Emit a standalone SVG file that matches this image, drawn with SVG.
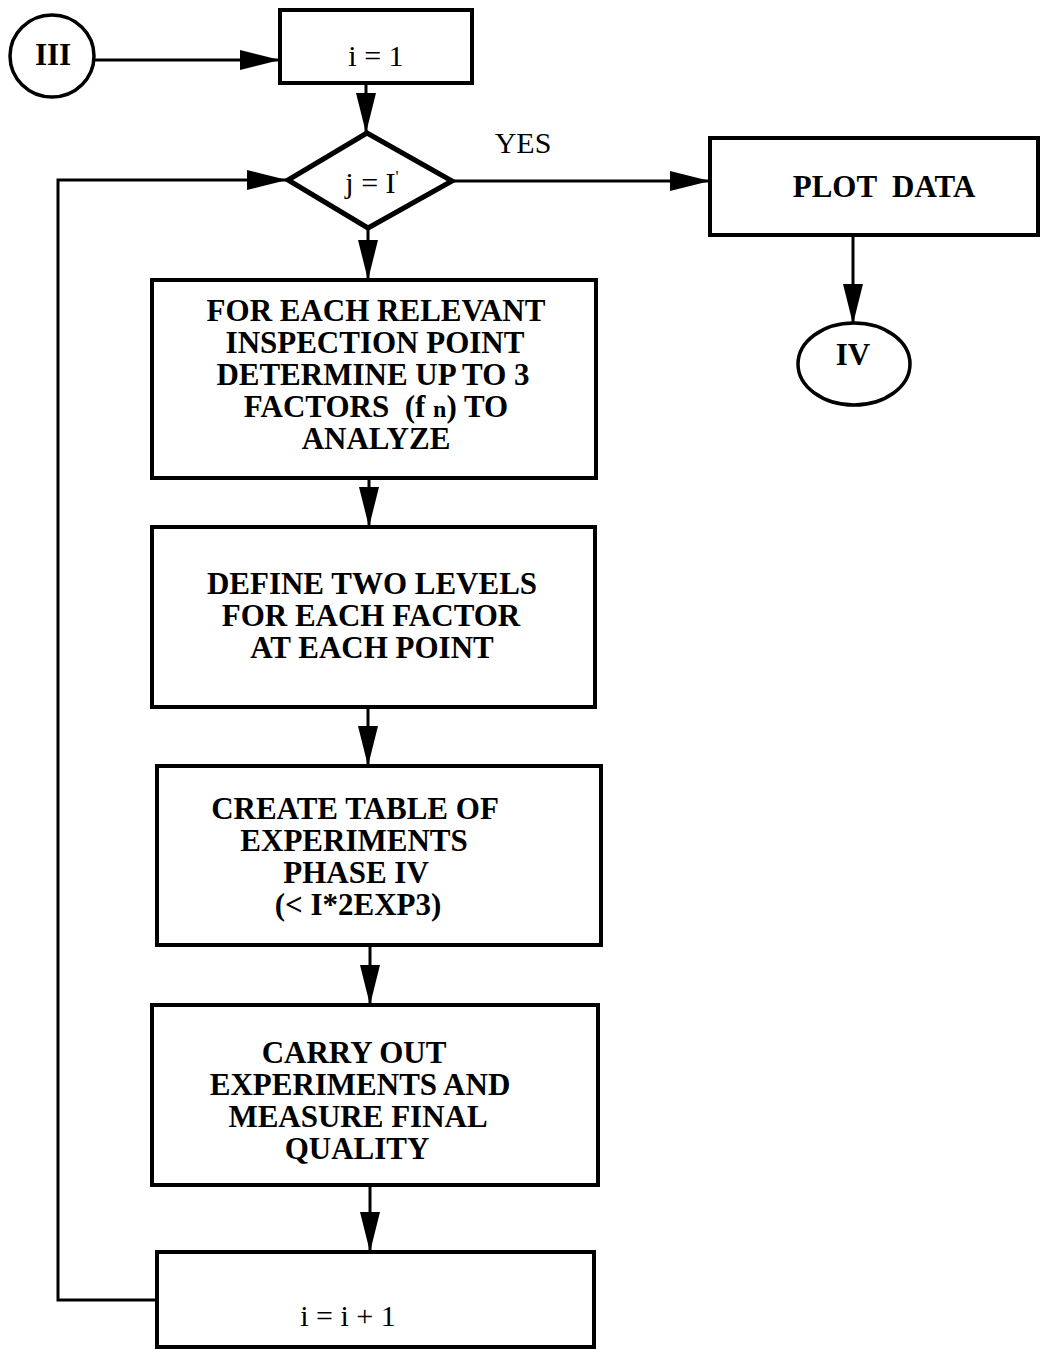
<svg xmlns="http://www.w3.org/2000/svg" width="1041" height="1349" viewBox="0 0 1041 1349">
  <style>
    .box { fill: #fff; stroke: #000; stroke-width: 4; }
    .term { fill: #fff; stroke: #000; stroke-width: 3.5; }
    .dec { fill: #fff; stroke: #000; stroke-width: 5; stroke-linejoin: miter; }
    .wire { fill: none; stroke: #000; stroke-width: 3; }
    .lbl { font-family: "Liberation Serif", "Times New Roman", serif; font-weight: bold; font-size: 31px; text-anchor: middle; fill: #000; }
    .reg { font-family: "Liberation Serif", "Times New Roman", serif; font-weight: normal; font-size: 30px; text-anchor: middle; fill: #000; }
  </style>
  <defs>
    <marker id="head" markerUnits="userSpaceOnUse" markerWidth="42" markerHeight="22" refX="40" refY="11" orient="auto">
      <path d="M0,1 L40,11 L0,21 Z" fill="#000"/>
    </marker>
  </defs>
  <rect width="1041" height="1349" fill="#fff"/>

  <!-- connectors -->
  <g id="connectors" class="wire">
    <line x1="95" y1="60" x2="280" y2="60" marker-end="url(#head)"/>
    <line x1="366" y1="83" x2="366" y2="133" marker-end="url(#head)"/>
    <line x1="453" y1="181" x2="710" y2="181" marker-end="url(#head)"/>
    <line x1="853" y1="235" x2="853" y2="324" marker-end="url(#head)"/>
    <line x1="368" y1="228" x2="368" y2="280" marker-end="url(#head)"/>
    <line x1="369" y1="478" x2="369" y2="527" marker-end="url(#head)"/>
    <line x1="368" y1="707" x2="368" y2="766" marker-end="url(#head)"/>
    <line x1="370" y1="945" x2="370" y2="1005" marker-end="url(#head)"/>
    <line x1="370" y1="1185" x2="370" y2="1252" marker-end="url(#head)"/>
    <polyline points="157,1300 58,1300 58,180 287,180" marker-end="url(#head)"/>
  </g>

  <!-- start connector III -->
  <g id="start">
    <ellipse class="term" cx="52" cy="56" rx="42" ry="41"/>
    <text class="lbl" x="53" y="65" font-size="28">III</text>
  </g>

  <!-- counter init -->
  <g id="init">
    <rect class="box" x="280" y="10" width="192" height="73"/>
    <text class="reg" x="376" y="66" font-size="29">i = 1</text>
  </g>

  <!-- loop test -->
  <g id="test">
    <polygon class="dec" points="367,133 452,181 368,228 288,180"/>
    <text class="reg" x="372" y="193">j = I<tspan font-size="17" dy="-11">'</tspan></text>
  </g>

  <text id="yes" class="reg" x="523" y="153" font-size="23">YES</text>

  <!-- plot -->
  <g id="plot">
    <rect class="box" x="710" y="138" width="328" height="97"/>
    <text class="lbl" x="884" y="197" font-size="29" xml:space="preserve">PLOT  DATA</text>
  </g>

  <!-- end connector IV -->
  <g id="end">
    <ellipse class="term" cx="854" cy="364" rx="56" ry="41"/>
    <text class="lbl" x="853" y="365" font-size="28">IV</text>
  </g>

  <!-- factor selection -->
  <g id="factors">
    <rect class="box" x="152" y="280" width="444" height="198"/>
    <text class="lbl" x="376" y="321">FOR EACH RELEVANT</text>
    <text class="lbl" x="375" y="353">INSPECTION POINT</text>
    <text class="lbl" x="373" y="385">DETERMINE UP TO 3</text>
    <text class="lbl" x="376" y="417" xml:space="preserve">FACTORS  (f <tspan font-size="24">n</tspan>) TO</text>
    <text class="lbl" x="376" y="449">ANALYZE</text>
  </g>

  <!-- levels -->
  <g id="levels">
    <rect class="box" x="152" y="527" width="443" height="180"/>
    <text class="lbl" x="372" y="594">DEFINE TWO LEVELS</text>
    <text class="lbl" x="371" y="626">FOR EACH FACTOR</text>
    <text class="lbl" x="372" y="658">AT EACH POINT</text>
  </g>

  <!-- experiment table -->
  <g id="table">
    <rect class="box" x="157" y="766" width="444" height="179"/>
    <text class="lbl" x="355" y="819">CREATE TABLE OF</text>
    <text class="lbl" x="354" y="851">EXPERIMENTS</text>
    <text class="lbl" x="356" y="883">PHASE IV</text>
    <text class="lbl" x="358" y="915" font-size="29">(&lt; I*2EXP3)</text>
  </g>

  <!-- experiments -->
  <g id="run">
    <rect class="box" x="152" y="1005" width="446" height="180"/>
    <text class="lbl" x="354" y="1063">CARRY OUT</text>
    <text class="lbl" x="360" y="1095">EXPERIMENTS AND</text>
    <text class="lbl" x="358" y="1127">MEASURE FINAL</text>
    <text class="lbl" x="357" y="1159">QUALITY</text>
  </g>

  <!-- counter step -->
  <g id="step">
    <rect class="box" x="157" y="1252" width="437" height="95"/>
    <text class="reg" x="348" y="1326" font-size="31">i = i + 1</text>
  </g>
</svg>
